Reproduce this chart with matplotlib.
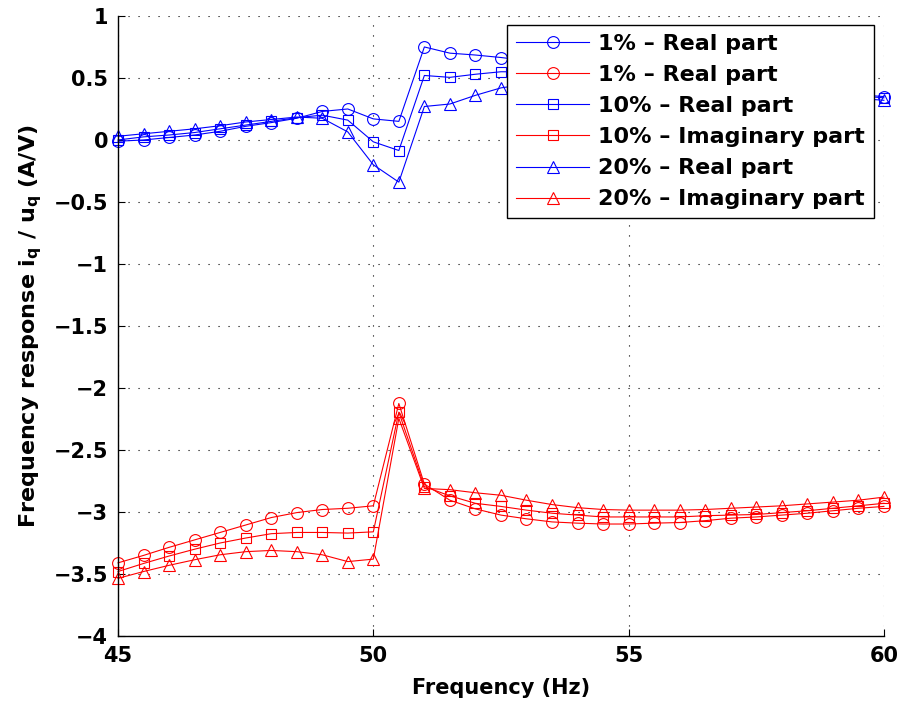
import numpy as np
import matplotlib
matplotlib.use('Agg')
import matplotlib.pyplot as plt
from matplotlib.ticker import FuncFormatter

# frequency points (Hz)
freq = np.arange(45, 60.01, 0.5)

# real part (blue)
real_1 = [-0.01, 0.0, 0.02, 0.04, 0.07, 0.11, 0.14, 0.175, 0.23, 0.25, 0.17, 0.15,
          0.75, 0.70, 0.685, 0.665, 0.64, 0.62, 0.59, 0.57, 0.54, 0.52, 0.50, 0.48,
          0.46, 0.44, 0.42, 0.40, 0.38, 0.365, 0.35]
real_10 = [0.0, 0.025, 0.04, 0.06, 0.09, 0.12, 0.15, 0.18, 0.20, 0.16, -0.015, -0.085,
           0.52, 0.505, 0.53, 0.55, 0.55, 0.55, 0.54, 0.53, 0.52, 0.50, 0.49, 0.47,
           0.45, 0.43, 0.41, 0.39, 0.37, 0.355, 0.34]
real_20 = [0.03, 0.05, 0.07, 0.09, 0.115, 0.145, 0.165, 0.185, 0.175, 0.065, -0.20, -0.34,
           0.27, 0.29, 0.36, 0.42, 0.45, 0.47, 0.48, 0.48, 0.47, 0.46, 0.45, 0.44,
           0.42, 0.41, 0.39, 0.37, 0.35, 0.335, 0.32]

# imaginary part (red)
imag_1 = [-3.41, -3.35, -3.285, -3.225, -3.165, -3.105, -3.045, -3.005, -2.98, -2.97, -2.95,
          -2.125, -2.775, -2.905, -2.975, -3.025, -3.055, -3.08, -3.09, -3.097, -3.097,
          -3.09, -3.085, -3.07, -3.05, -3.04, -3.025, -3.01, -2.99, -2.97, -2.955]
imag_10 = [-3.48, -3.415, -3.355, -3.30, -3.25, -3.21, -3.175, -3.165, -3.165, -3.17, -3.16,
           -2.195, -2.795, -2.87, -2.93, -2.955, -2.985, -3.01, -3.025, -3.04, -3.04,
           -3.04, -3.04, -3.03, -3.025, -3.02, -3.005, -2.99, -2.97, -2.95, -2.93]
imag_20 = [-3.535, -3.48, -3.43, -3.385, -3.345, -3.32, -3.31, -3.32, -3.345, -3.40, -3.38,
           -2.245, -2.81, -2.82, -2.845, -2.865, -2.905, -2.94, -2.965, -2.98, -2.985,
           -2.985, -2.985, -2.98, -2.97, -2.96, -2.95, -2.935, -2.92, -2.905, -2.88]

labels = ['1% \u2013 Real part', '1% \u2013 Real part',
          '10% \u2013 Real part', '10% \u2013 Imaginary part',
          '20% \u2013 Real part', '20% \u2013 Imaginary part']

plt.rcParams['font.family'] = 'DejaVu Sans'
plt.rcParams['font.weight'] = 'bold'
plt.rcParams['mathtext.fontset'] = 'dejavusans'

fig = plt.figure(figsize=(9.01, 7.03), dpi=100)
ax = fig.add_axes([0.131, 0.0953, 0.85, 0.882])

series = [(real_1, 'b', 'o', 8.5), (imag_1, 'r', 'o', 8.5),
          (real_10, 'b', 's', 7), (imag_10, 'r', 's', 7),
          (real_20, 'b', '^', 8), (imag_20, 'r', '^', 8)]
for (vals, col, mk, ms), lab in zip(series, labels):
    ax.plot(freq, vals, color=col, marker=mk, markersize=ms, markerfacecolor='none',
            markeredgecolor=col, linewidth=0.8, markeredgewidth=0.8, label=lab,
            clip_on=False)

ax.set_xlim(45, 60)
ax.set_ylim(-4, 1)
ax.set_xticks([45, 50, 55, 60])
ax.set_yticks(np.arange(-4, 1.01, 0.5))
ax.yaxis.set_major_formatter(FuncFormatter(lambda v, p: f'{v:g}'.replace('-', '\u2212')))
ax.tick_params(direction='in', length=5, width=0.8, labelsize=15, pad=7,
               top=False, right=False)
for lab in ax.get_xticklabels() + ax.get_yticklabels():
    lab.set_fontweight('bold')

ax.spines['top'].set_visible(False)
ax.spines['right'].set_visible(False)
ax.spines['left'].set_linewidth(1.0)
ax.spines['bottom'].set_linewidth(1.0)
ax.grid(True, color='black', linestyle=(0, (1, 8)), linewidth=0.8)

ax.set_xlabel('Frequency (Hz)', fontsize=15, fontweight='bold', labelpad=9)
ax.set_ylabel(r'Frequency response $\mathbf{i_q}$ / $\mathbf{u_q}$ (A/V)',
              fontsize=16, fontweight='bold', labelpad=7)

leg = ax.legend(loc='upper right', bbox_to_anchor=(874 / 901, 1 - 25 / 703),
                bbox_transform=fig.transFigure, borderaxespad=0,
                prop={'weight': 'bold', 'size': 16}, fancybox=False,
                edgecolor='black', framealpha=1, handlelength=3.3,
                labelspacing=0.5, handletextpad=0.4, borderpad=0.4)
leg.get_frame().set_linewidth(1.0)
leg.set_zorder(5)

fig.savefig('out.png', dpi=100)
